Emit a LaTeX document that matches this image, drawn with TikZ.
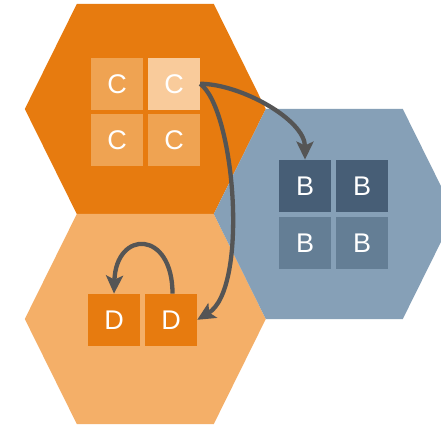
\documentclass[tikz,border=0pt]{standalone}
\usepackage{fontspec}
\setmainfont{Liberation Sans}
\usetikzlibrary{arrows.meta}

\definecolor{hexorange}{HTML}{E77B0F}
\definecolor{hexpeach}{HTML}{F4AF68}
\definecolor{hexblue}{HTML}{86A0B7}
\definecolor{cellc}{HTML}{EFA352}
\definecolor{cellchi}{HTML}{F9CB9B}
\definecolor{cellbdark}{HTML}{475E76}
\definecolor{cellbmid}{HTML}{647E95}
\definecolor{celld}{HTML}{E77B0F}
\definecolor{arrowgrey}{HTML}{555555}

% flat-topped hexagon centred at (#1,#2), filled with colour #3
\newcommand\hexfill[3]{%
  \fill[#3, shift={(#1,#2)}]
    (-120.5,0) -- (-68.5,-105) -- (68.5,-105) -- (120.5,0)
    -- (68.5,105) -- (-68.5,105) -- cycle;}

\begin{document}
\begin{tikzpicture}[x=1pt,y=-1pt,
  cell/.style={minimum size=52pt, inner sep=0pt, text=white,
    font=\fontsize{27}{27}\selectfont},
  link/.style={draw=arrowgrey, line width=4.3pt,
    -{Stealth[length=18pt,width=17pt,inset=4pt]}}]

\clip (0,0) rectangle (441,427);
\fill[white] (0,0) rectangle (441,427);

% the three hexagons
\hexfill{145.3}{109}{hexorange}
\hexfill{145.3}{319}{hexpeach}
\hexfill{334.3}{214}{hexblue}

% C cells
\node[cell, fill=cellc]   (c1) at (117,83.8) {C};
\node[cell, fill=cellchi] (c2) at (174,83.8) {C};
\node[cell, fill=cellc]   (c3) at (117,139.8) {C};
\node[cell, fill=cellc]   (c4) at (174,139.8) {C};

% B cells
\node[cell, fill=cellbdark] (b1) at (305,185.8) {B};
\node[cell, fill=cellbdark] (b2) at (362,185.8) {B};
\node[cell, fill=cellbmid]  (b3) at (305,242.8) {B};
\node[cell, fill=cellbmid]  (b4) at (362,242.8) {B};

% D cells
\node[cell, fill=celld] (d1) at (114,319.8) {D};
\node[cell, fill=celld] (d2) at (171,319.8) {D};

% connectors
\draw[link] (c2.east) .. controls +(40,0) and +(0,-40) .. (b1.north);
\draw[link] (c2.east) .. controls +(35,26.2) and +(51.7,-31.1) .. (d2.east);
\draw[link] ([xshift=1.5pt]d2.north) .. controls +(0,-64) and +(2,-64) .. (d1.north);

\end{tikzpicture}
\end{document}
